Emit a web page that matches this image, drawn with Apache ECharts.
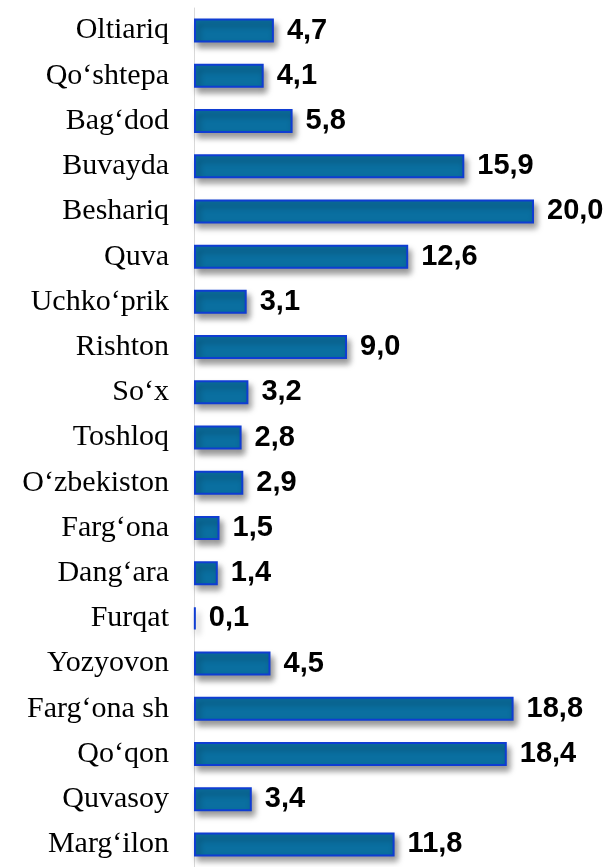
<!DOCTYPE html>
<html>
<head>
<meta charset="utf-8">
<script src="https://cdn.jsdelivr.net/npm/echarts@6/dist/echarts.min.js"></script>
<style>
    html, body { margin: 0; padding: 0; background: #fff; }
    #chart { width: 613px; height: 867px; }
</style>
</head>
<body>
<div id="chart"></div>
<script>
// 地区名称（自上而下）
const districts = ['Oltiariq', 'Qo‘shtepa', 'Bag‘dod', 'Buvayda', 'Beshariq', 'Quva', 'Uchko‘prik',
    'Rishton', 'So‘x', 'Toshloq', 'O‘zbekiston', 'Farg‘ona', 'Dang‘ara', 'Furqat', 'Yozyovon',
    'Farg‘ona sh', 'Qo‘qon', 'Quvasoy', 'Marg‘ilon'];
// 数值
const shares = [4.7, 4.1, 5.8, 15.9, 20.0, 12.6, 3.1, 9.0, 3.2, 2.8, 2.9, 1.5, 1.4, 0.1, 4.5, 18.8, 18.4, 3.4, 11.8];

const chart = echarts.init(document.getElementById('chart'));

const option = {
    animation: false,
    grid: {
        left: 194,
        right: 11,
        top: 8,
        bottom: 0
    },
    xAxis: {
        type: 'value',
        min: 0,
        max: 24,
        show: false
    },
    yAxis: {
        type: 'category',
        inverse: true,
        data: districts,
        axisLine: { show: true, lineStyle: { color: '#d9d9d9', width: 1 } },
        axisTick: { show: false },
        axisLabel: {
            margin: 25,
            fontFamily: '"Liberation Serif", "Times New Roman", serif',
            fontSize: 30,
            color: '#000'
        }
    },
    series: [{
        type: 'bar',
        data: shares,
        barWidth: 24,
        itemStyle: {
            color: '#0a6fa0',
            borderColor: '#0f3dd2',
            borderWidth: 2,
            shadowColor: 'rgba(0,0,0,0.4)',
            shadowBlur: 6,
            shadowOffsetX: 3,
            shadowOffsetY: 5
        },
        label: {
            show: true,
            position: 'right',
            distance: 13,
            fontFamily: '"Liberation Sans", Arial, sans-serif',
            fontWeight: 'bold',
            fontSize: 29,
            color: '#000',
            formatter: p => p.value.toFixed(1).replace('.', ',')
        }
    }]
};

chart.setOption(option);
</script>
</body>
</html>
